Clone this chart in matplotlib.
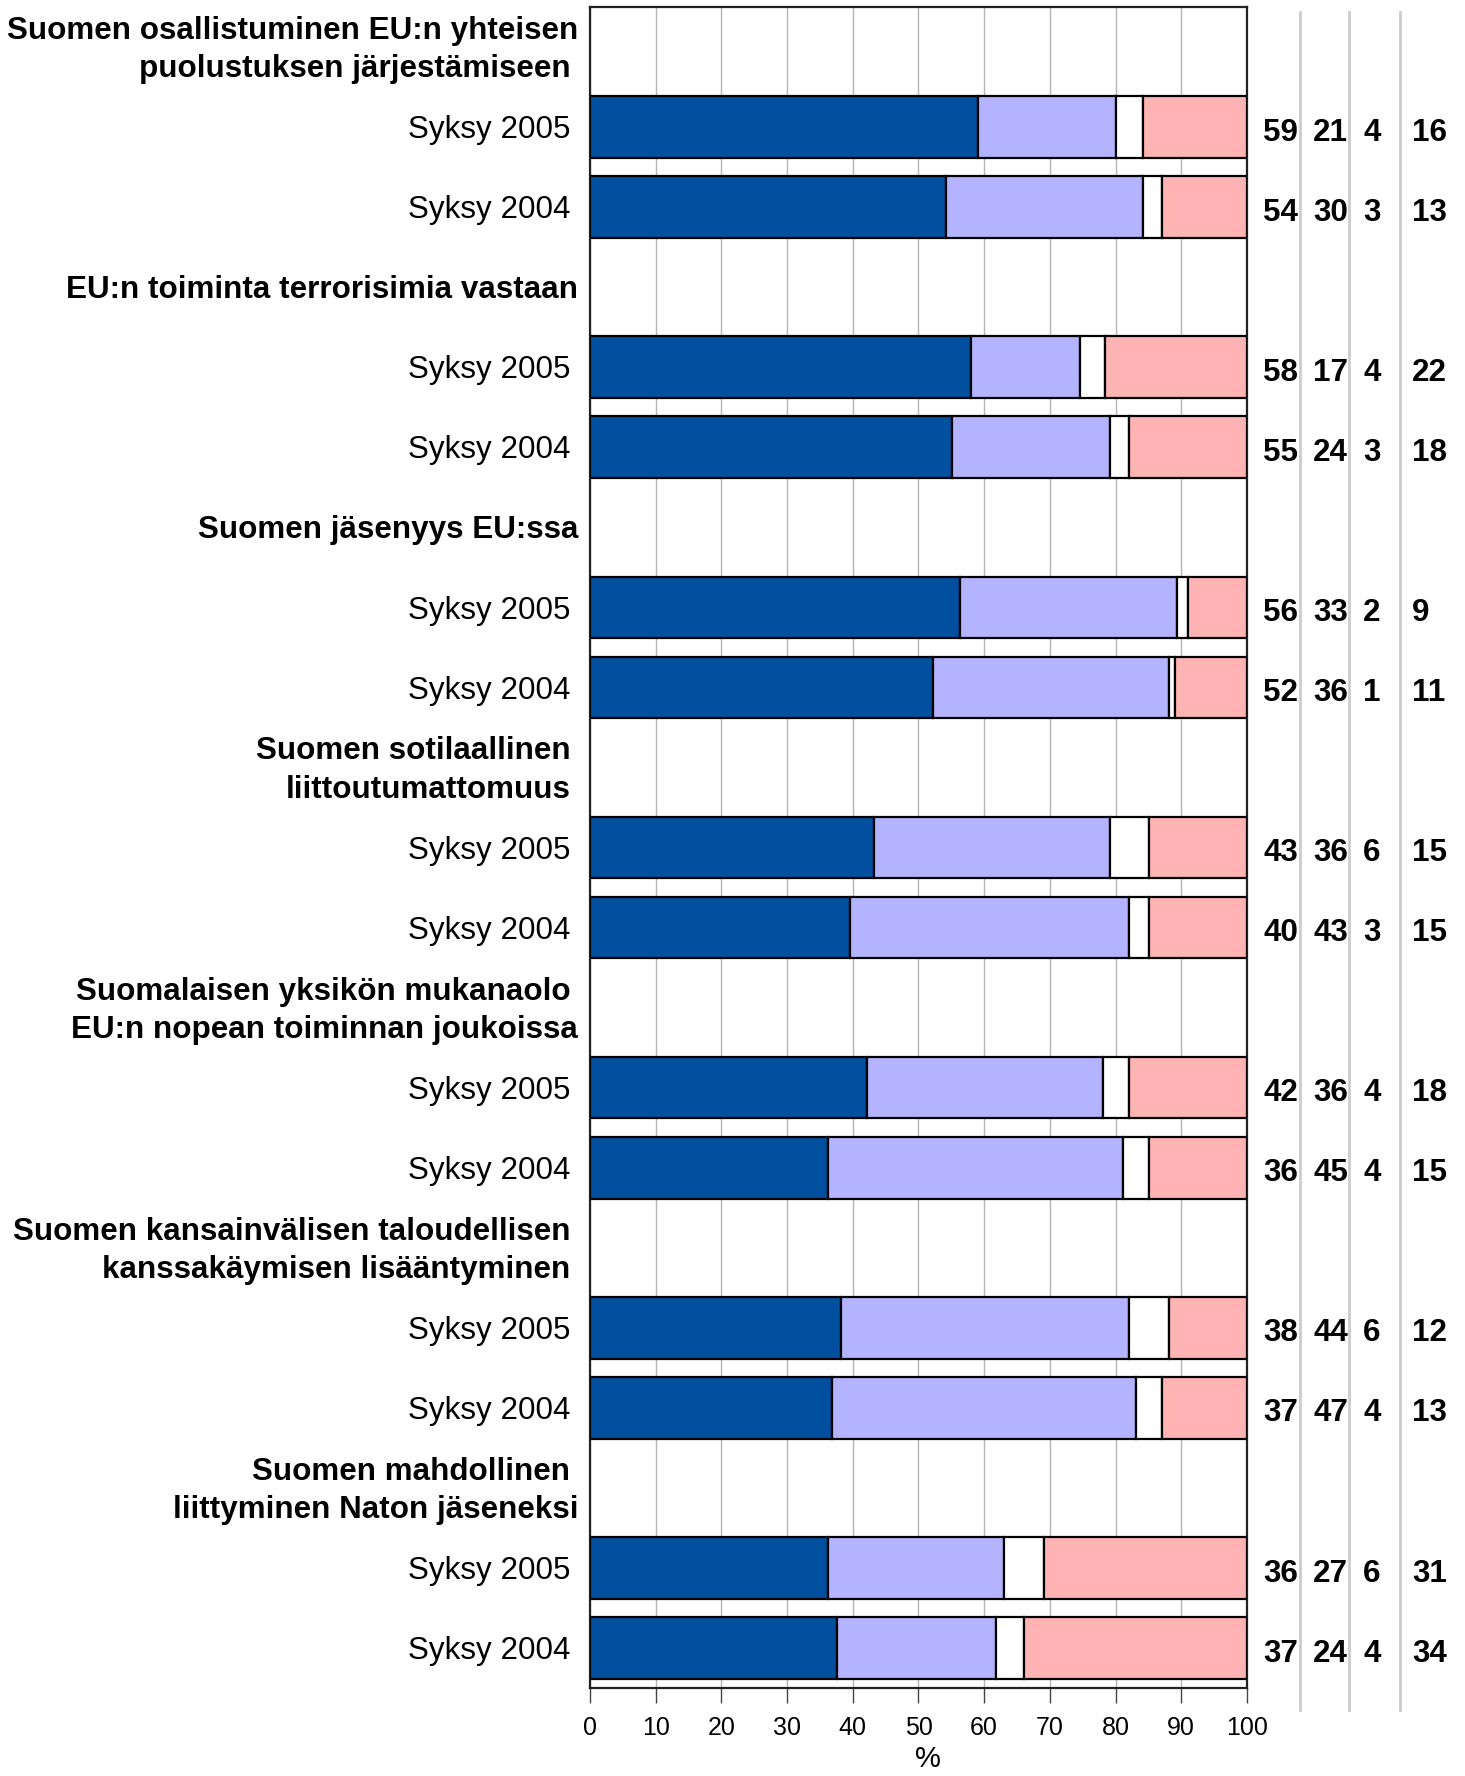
import matplotlib
matplotlib.use("Agg")
import matplotlib.pyplot as plt
import matplotlib.transforms as mtransforms
from matplotlib.lines import Line2D

plt.rcParams['font.family'] = ['Liberation Sans', 'DejaVu Sans']

# otsikot (trailing space = line ends a bit further left, like in the original)
headers = [
    ["Suomen osallistuminen EU:n yhteisen", "puolustuksen järjestämiseen "],
    ["EU:n toiminta terrorisimia vastaan"],
    ["Suomen jäsenyys EU:ssa"],
    ["Suomen sotilaallinen ", "liittoutumattomuus "],
    ["Suomalaisen yksikön mukanaolo ", "EU:n nopean toiminnan joukoissa"],
    ["Suomen kansainvälisen taloudellisen ", "kanssakäymisen lisääntyminen "],
    ["Suomen mahdollinen ", "liittyminen Naton jäseneksi"],
]
periods = ["Syksy 2005", "Syksy 2004"]

# bar segments (2005, 2004 for each header)
seg1 = [59.1, 54.2, 58.0, 55.1, 56.3, 52.2, 43.2, 39.6, 42.1, 36.3, 38.2, 36.8, 36.3, 37.6]
seg2 = [21.0, 29.9, 16.6, 24.0, 33.0, 35.9, 35.9, 42.4, 36.0, 44.9, 43.8, 46.3, 26.7, 24.2]
seg3 = [4.0, 2.9, 3.8, 2.9, 1.7, 1.0, 6.0, 3.1, 3.9, 3.9, 6.1, 3.9, 6.1, 4.3]
seg4 = [15.9, 13.0, 21.6, 18.0, 9.0, 10.9, 14.9, 14.9, 18.0, 14.9, 11.9, 13.0, 30.9, 33.9]

# printed numbers on the right
lab1 = [59, 54, 58, 55, 56, 52, 43, 40, 42, 36, 38, 37, 36, 37]
lab2 = [21, 30, 17, 24, 33, 36, 36, 43, 36, 45, 44, 47, 27, 24]
lab3 = [4, 3, 4, 3, 2, 1, 6, 3, 4, 4, 6, 4, 6, 4]
lab4 = [16, 13, 22, 18, 9, 11, 15, 15, 18, 15, 12, 13, 31, 34]

colors = ['#00509f', '#b3b3ff', '#ffffff', '#ffb3b3']

fig = plt.figure(figsize=(14.65, 17.76), dpi=100)
ax = fig.add_axes([0.4027, 0.0495, 0.4485, 0.9466])

n_rows = len(headers) * 3
bar_rows = []
for i in range(len(headers)):
    bar_rows += [3 * i + 1, 3 * i + 2]

left = [0.0] * len(bar_rows)
for seg, col in zip([seg1, seg2, seg3, seg4], colors):
    ax.barh(bar_rows, seg, left=left, height=0.77, color=col,
            edgecolor='black', linewidth=1.6, zorder=3)
    left = [a + b for a, b in zip(left, seg)]

ax.set_xlim(0, 100)
ax.set_ylim(n_rows - 0.5, -0.5)
ax.set_xticks(range(0, 101, 10))
ax.set_yticks([])
ax.xaxis.grid(True, color='#b4b4b4', linewidth=1.0, zorder=0)
ax.set_axisbelow(True)
ax.tick_params(axis='x', length=11, width=1, color='#444444', labelsize=18, pad=9)
ax.set_xlabel('%', fontsize=21)
ax.xaxis.set_label_coords(0.515, -0.034)
for s in ax.spines.values():
    s.set_color('#222222')
    s.set_linewidth(1.6)

# labels on the left
fs = 22.6
for i, lines in enumerate(headers):
    r = 3 * i
    nl = len(lines)
    for j, line in enumerate(lines):
        y = r + 0.04 + (j - (nl - 1) / 2) * 0.48
        xo = -3.0 if line.endswith(' ') else -1.8
        ax.text(xo, y, line.rstrip(), ha='right', va='center', fontsize=fs,
                fontweight='bold', clip_on=False)
    for k, p in enumerate(periods):
        ax.text(-3.0, r + 1 + k + 0.04, p, ha='right', va='center', fontsize=fs,
                clip_on=False)

# numbers on the right
trans = mtransforms.blended_transform_factory(fig.transFigure, ax.transData)
col_x = [1263 / 1465, 1313 / 1465, 1363 / 1465, 1412 / 1465]
for labs, cx in zip([lab1, lab2, lab3, lab4], col_x):
    for r, v in zip(bar_rows, labs):
        ax.text(cx, r + 0.07, str(v), transform=trans, ha='left', va='center',
                fontsize=fs, fontweight='bold', clip_on=False)

for x in [1300, 1349, 1400]:
    fig.add_artist(Line2D([x / 1465, x / 1465], [1 - 12 / 1776, 1 - 1710 / 1776],
                          color='#cccccc', linewidth=2))

fig.savefig('out.png', dpi=100)
